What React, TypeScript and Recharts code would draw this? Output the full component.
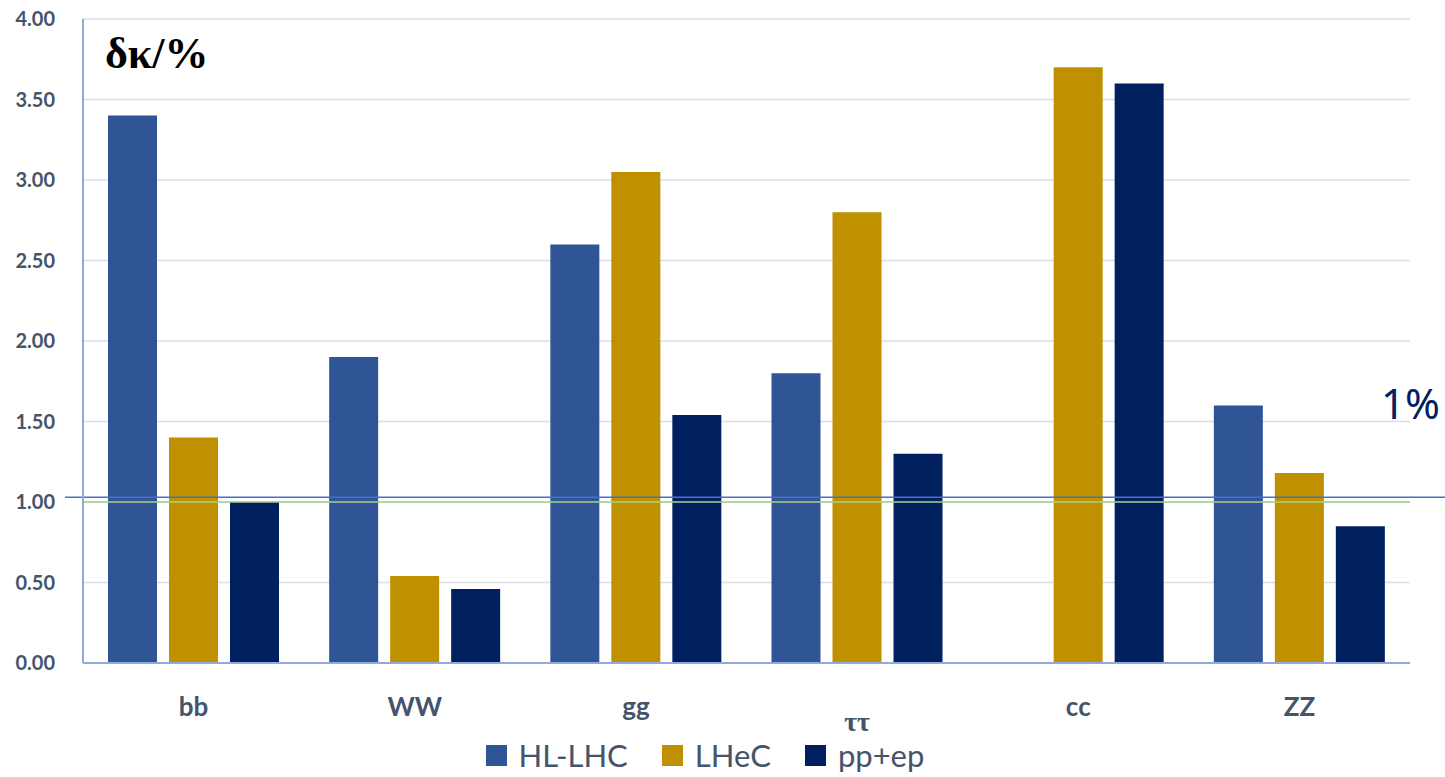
import { BarChart, Bar, XAxis, YAxis, CartesianGrid, Legend, ReferenceLine } from "recharts";

const categories = ["bb", "WW", "gg", "ττ", "cc", "ZZ"];
const hlLhc = [3.4, 1.9, 2.6, 1.8, null, 1.6];
const lhec = [1.4, 0.54, 3.05, 2.8, 3.7, 1.18];
const ppEp = [1.0, 0.46, 1.54, 1.3, 3.6, 0.85];
const yTicks = [0, 0.5, 1, 1.5, 2, 2.5, 3, 3.5, 4];
const oneLevel = 1.03;

const series = [
  { key: "hl", name: "HL-LHC", color: "#2F5597" },
  { key: "lhec", name: "LHeC", color: "#BF9000" },
  { key: "pp", name: "pp+ep", color: "#002060" },
];

const data = categories.map((c, i) => ({ name: c, hl: hlLhc[i], lhec: lhec[i], pp: ppEp[i] }));

const labelColor = "#44546A";

function CategoryTick(props: any) {
  const { x, y, payload } = props;
  // the tau label sits lower in the original, in a serif face
  const tau = payload.value === "ττ";
  return (
    <text
      x={x}
      y={y + (tau ? 66 : 51)}
      textAnchor="middle"
      fill={labelColor}
      fontFamily={tau ? "Liberation Serif" : "Lato"}
      fontWeight={700}
      fontSize={tau ? 28 : 26}
    >
      {payload.value}
    </text>
  );
}

function LegendBox() {
  return (
    <div style={{ display: "flex", justifyContent: "center", gap: 34, paddingTop: 4, fontFamily: "Lato", fontSize: 31, color: labelColor, lineHeight: "36px" }}>
      {series.map((s) => (
        <div key={s.key} style={{ display: "flex", alignItems: "center", gap: 12 }}>
          <span style={{ width: 21, height: 21, background: s.color, display: "inline-block" }} />
          <span>{s.name}</span>
        </div>
      ))}
    </div>
  );
}

function OneLine(props: any) {
  const { x1, y1 } = props;
  return (
    <g>
      <line x1={x1 - 18} y1={y1} x2={1445} y2={y1} stroke="#4472C4" strokeWidth={1.5} />
      <text x={1440} y={y1 - 78} textAnchor="end" fill="#002060" fontFamily="Noto Sans" fontSize={42}>
        1%
      </text>
    </g>
  );
}

export default function App() {
  return (
    <div style={{ position: "absolute", left: 0, top: 0, width: 1445, height: 777, background: "#fff" }}>
      <BarChart
        width={1445}
        height={777}
        data={data}
        margin={{ top: 19, right: 35, bottom: 0, left: 0 }}
        barSize={49}
        barGap={12}
      >
        <CartesianGrid vertical={false} stroke="#D9DEE9" strokeWidth={1.5} />
        <YAxis
          width={83}
          domain={[0, 4]}
          ticks={yTicks}
          tickFormatter={(v: number) => v.toFixed(2)}
          tick={{ fill: labelColor, fontSize: 20, fontWeight: 700, fontFamily: "Lato" }}
          tickLine={false}
          tickSize={0}
          tickMargin={28}
          axisLine={{ stroke: "#8FAADC", strokeWidth: 2 }}
        />
        <XAxis
          dataKey="name"
          height={70}
          tick={<CategoryTick />}
          tickLine={false}
          tickSize={0}
          axisLine={{ stroke: "#8FAADC", strokeWidth: 2 }}
        />
        <ReferenceLine y={1} stroke="#A9D18E" strokeWidth={1.5} />
        <Legend verticalAlign="bottom" height={44} content={<LegendBox />} />
        {series.map((s) => (
          <Bar key={s.key} dataKey={s.key} name={s.name} fill={s.color} isAnimationActive={false} />
        ))}
        <ReferenceLine y={oneLevel} shape={<OneLine />} />
      </BarChart>
      <div
        style={{
          position: "absolute",
          left: 105,
          top: 30,
          fontFamily: "Liberation Serif",
          fontWeight: 700,
          fontSize: 44,
          color: "#000",
          lineHeight: "48px",
        }}
      >
        δκ/%
      </div>
    </div>
  );
}
